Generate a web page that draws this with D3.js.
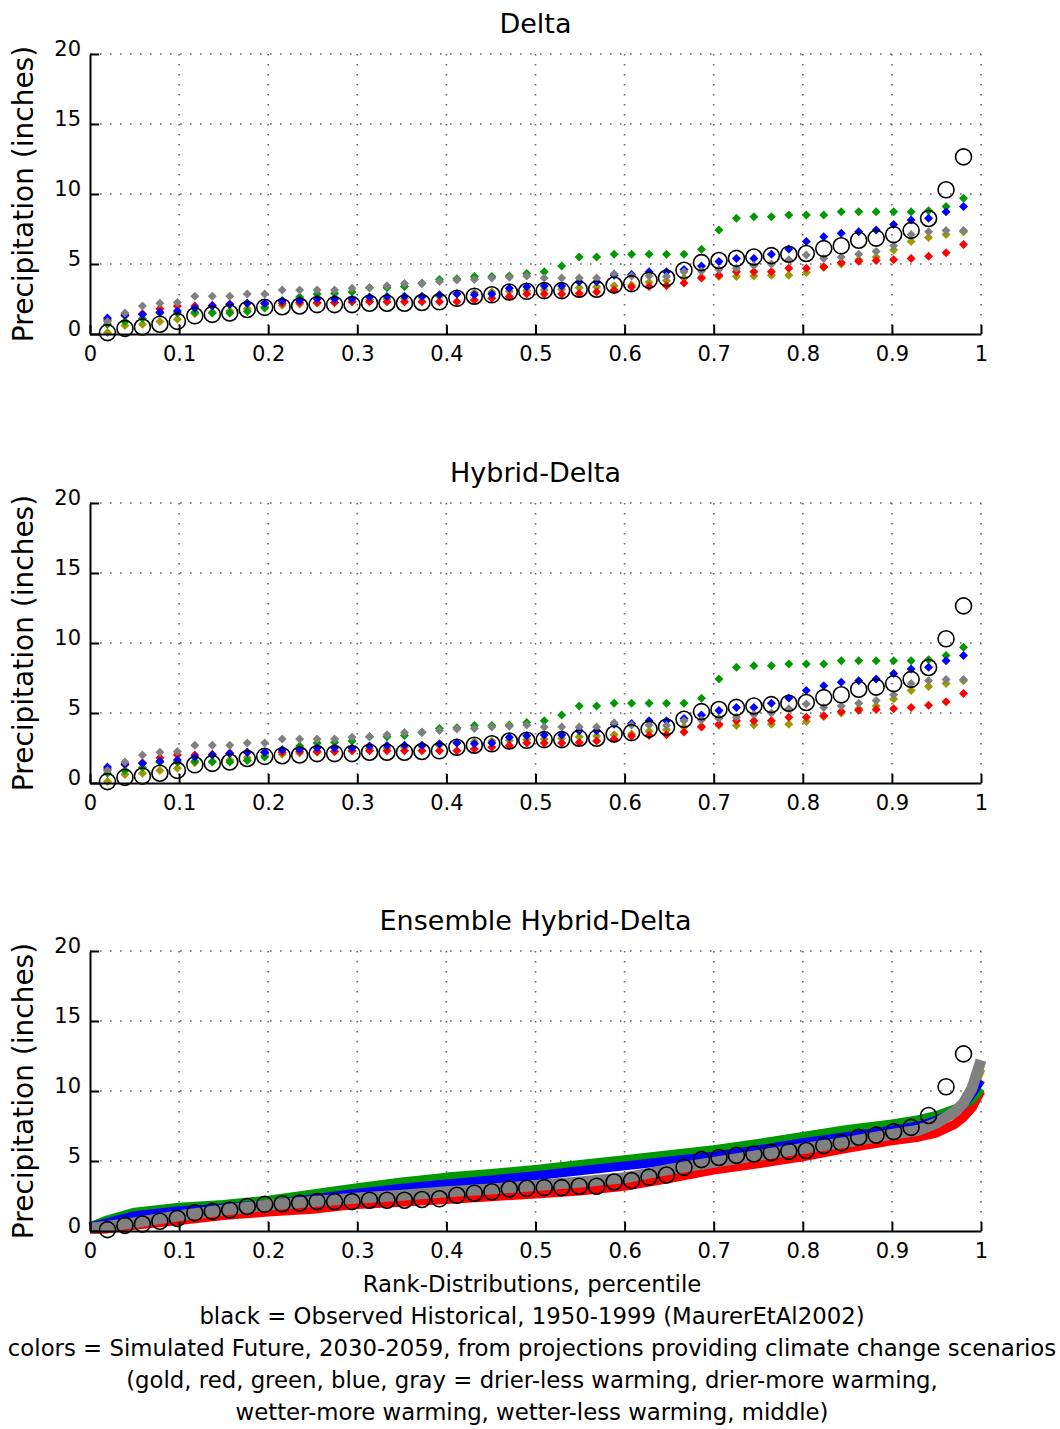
<!DOCTYPE html>
<html>
<head>
<meta charset="utf-8">
<script src="https://cdn.jsdelivr.net/npm/d3@7"></script>
<style>
  body { margin: 0; background: #fff; }
  text { font-family: "DejaVu Sans", "Liberation Sans", Arial, sans-serif; fill: #000; }
</style>
</head>
<body>
<div id="chart"></div>
<script>

// rank positions (50 years, i/51)
var rankX = d3.range(1, 51).map(i => i / 51);

// observed historical 1950-1999 (same in every panel)
var observed = [0.1, 0.4, 0.5, 0.7, 0.9, 1.3, 1.4, 1.5, 1.75, 1.9,
  1.95, 2.0, 2.1, 2.1, 2.1, 2.2, 2.2, 2.2, 2.25, 2.3,
  2.55, 2.7, 2.8, 3.0, 3.05, 3.1, 3.1, 3.2, 3.2, 3.5,
  3.6, 3.85, 4.0, 4.55, 5.1, 5.25, 5.4, 5.5, 5.6, 5.7,
  5.75, 6.1, 6.3, 6.7, 6.85, 7.1, 7.4, 8.25, 10.3, 12.65];

// Delta
var deltaGold = [0.1, 0.6, 0.7, 0.9, 1.05, 1.45, 1.55, 1.65, 1.8, 1.95,
  2.05, 2.15, 2.2, 2.25, 2.3, 2.45, 2.5, 2.55, 2.6, 2.7,
  2.9, 2.95, 3.0, 3.05, 3.1, 3.15, 3.2, 3.3, 3.35, 3.45,
  3.5, 3.7, 3.8, 4.0, 4.05, 4.1, 4.1, 4.15, 4.2, 4.2,
  4.4, 4.75, 5.0, 5.3, 5.5, 6.0, 6.6, 6.9, 7.1, 7.3];
var deltaRed = [1.0, 1.3, 1.45, 1.8, 2.0, 2.0, 2.05, 2.15, 2.2, 2.2,
  2.2, 2.25, 2.25, 2.25, 2.3, 2.3, 2.3, 2.3, 2.3, 2.3,
  2.3, 2.43, 2.55, 2.67, 2.85, 2.85, 2.85, 2.9, 3.0, 3.15,
  3.35, 3.4, 3.45, 3.65, 4.0, 4.2, 4.45, 4.45, 4.45, 4.7,
  4.7, 4.8, 5.1, 5.2, 5.25, 5.3, 5.4, 5.55, 5.8, 6.4];
var deltaGreen = [0.7, 0.9, 1.1, 1.5, 1.5, 1.55, 1.5, 1.5, 1.6, 1.85,
  2.4, 2.65, 2.85, 2.9, 3.0, 3.3, 3.3, 3.4, 3.6, 3.9,
  3.95, 4.1, 4.1, 4.14, 4.33, 4.45, 4.86, 5.5, 5.5, 5.69,
  5.69, 5.69, 5.69, 5.7, 6.05, 7.43, 8.26, 8.38, 8.38, 8.5,
  8.5, 8.5, 8.74, 8.74, 8.74, 8.74, 8.74, 8.8, 9.1, 9.7];
var deltaBlue = [1.15, 1.35, 1.4, 1.55, 1.65, 1.85, 2.0, 2.1, 2.2, 2.2,
  2.35, 2.4, 2.5, 2.5, 2.5, 2.65, 2.67, 2.7, 2.7, 2.8,
  2.86, 2.8, 2.85, 3.26, 3.38, 3.43, 3.43, 3.74, 3.74, 4.2,
  4.25, 4.45, 4.45, 4.6, 4.86, 5.17, 5.4, 5.4, 5.7, 6.07,
  6.6, 6.95, 7.2, 7.3, 7.43, 7.83, 8.14, 8.26, 8.74, 9.1];
var deltaGray = [0.9, 1.5, 2.0, 2.2, 2.25, 2.7, 2.7, 2.7, 2.85, 2.85,
  3.14, 3.14, 3.14, 3.14, 3.26, 3.3, 3.45, 3.6, 3.65, 3.75,
  3.86, 3.9, 4.0, 4.05, 4.14, 4.0, 4.0, 4.0, 4.0, 4.3,
  4.14, 4.14, 4.1, 4.45, 4.5, 4.6, 4.7, 4.9, 5.0, 5.3,
  5.64, 5.4, 5.5, 5.7, 5.9, 6.3, 7.1, 7.3, 7.4, 7.4];

// Hybrid-Delta
var hybridGold = deltaGold.slice();
var hybridRed = deltaRed.slice();
var hybridGreen = deltaGreen.slice();
var hybridBlue = deltaBlue.slice();
var hybridGray = deltaGray.slice();

// Ensemble Hybrid-Delta (band centres)
var ensX = [0, 0.02, 0.05, 0.1, 0.15, 0.2, 0.25, 0.3, 0.35, 0.4, 0.45, 0.5, 0.55,
  0.6, 0.65, 0.7, 0.75, 0.8, 0.85, 0.9, 0.93, 0.95, 0.97, 0.98, 0.99, 1.0];
var ensGold = [0.2, 0.3, 0.55, 1.05, 1.45, 1.8, 2.05, 2.3, 2.5, 2.75, 2.95, 3.2, 3.45,
  3.75, 4.35, 4.85, 5.35, 5.85, 6.3, 6.8, 7.1, 7.6, 8.4, 9.0, 10.0, 11.6];
var ensRed = [0.1, 0.15, 0.4, 0.75, 1.1, 1.35, 1.55, 1.9, 2.05, 2.25, 2.45, 2.65, 2.85,
  3.2, 3.75, 4.35, 4.8, 5.3, 5.9, 6.45, 6.7, 7.0, 7.6, 8.1, 8.8, 10.0];
var ensGreen = [0.3, 0.8, 1.35, 1.7, 1.9, 2.2, 2.65, 3.1, 3.5, 3.85, 4.1, 4.4, 4.75,
  5.1, 5.45, 5.8, 6.25, 6.75, 7.25, 7.65, 7.95, 8.25, 8.7, 9.0, 9.4, 10.2];
var ensBlue = [0.3, 0.6, 1.1, 1.45, 1.65, 1.9, 2.3, 2.7, 3.05, 3.35, 3.65, 3.95, 4.3,
  4.65, 5.0, 5.35, 5.8, 6.3, 6.75, 7.2, 7.5, 7.9, 8.5, 9.0, 9.8, 10.8];
var ensGray = [0.2, 0.35, 0.6, 1.1, 1.5, 1.85, 2.1, 2.35, 2.55, 2.8, 3.0, 3.25, 3.5,
  3.8, 4.4, 4.9, 5.4, 5.9, 6.35, 6.9, 7.2, 7.7, 8.5, 9.1, 10.2, 12.2];

var xTicks = [0, 0.1, 0.2, 0.3, 0.4, 0.5, 0.6, 0.7, 0.8, 0.9, 1];
var xTickLabels = ["0", "0.1", "0.2", "0.3", "0.4", "0.5", "0.6", "0.7", "0.8", "0.9", "1"];
var yTicks = [0, 5, 10, 15, 20];
var colors = {gold: "#999900", red: "#ff0000", green: "#009900", blue: "#0000ff", gray: "#808080"};

var notes = ["Rank-Distributions, percentile",
  "black = Observed Historical, 1950-1999 (MaurerEtAl2002)",
  "colors = Simulated Future, 2030-2059, from projections providing climate change scenarios",
  "(gold, red, green, blue, gray = drier-less warming, drier-more warming,",
  "wetter-more warming, wetter-less warming, middle)"];

var panels = [
  {title: "Delta", top: 54, series: [["gold", deltaGold], ["red", deltaRed], ["green", deltaGreen], ["blue", deltaBlue], ["gray", deltaGray]]},
  {title: "Hybrid-Delta", top: 503, series: [["gold", hybridGold], ["red", hybridRed], ["green", hybridGreen], ["blue", hybridBlue], ["gray", hybridGray]]},
  {title: "Ensemble Hybrid-Delta", top: 951, ensemble: true, series: [["gold", ensGold], ["red", ensRed], ["green", ensGreen], ["blue", ensBlue], ["gray", ensGray]]}
];

var width = 1060, height = 1429;
var left = 90, right = 981, plotH = 280;

var svg = d3.select("#chart").append("svg")
  .attr("width", width)
  .attr("height", height);

var x = d3.scaleLinear().domain([0, 1]).range([left, right]);

var d = 4.5;
var diamond = "M0," + (-d) + "L" + d + ",0L0," + d + "L" + (-d) + ",0Z";

panels.forEach(function(p) {
  var y = d3.scaleLinear().domain([0, 20]).range([p.top + plotH, p.top]);
  var g = svg.append("g");

  // dotted grid
  g.selectAll(".gx").data(xTicks.slice(1)).enter().append("line")
    .attr("x1", v => x(v)).attr("x2", v => x(v))
    .attr("y1", p.top).attr("y2", p.top + plotH)
    .style("stroke", "#666").style("stroke-width", 1.6).style("stroke-dasharray", "1.6,8.4");
  g.selectAll(".gy").data(yTicks.slice(1)).enter().append("line")
    .attr("x1", left).attr("x2", right)
    .attr("y1", v => y(v)).attr("y2", v => y(v))
    .style("stroke", "#666").style("stroke-width", 1.6).style("stroke-dasharray", "1.6,8.4");

  if (p.ensemble) {
    var line = d3.line().x((v, i) => x(ensX[i])).y(v => y(v));
    p.series.forEach(function(s) {
      g.append("path")
        .attr("d", line(s[1]))
        .style("fill", "none")
        .style("stroke", colors[s[0]])
        .style("stroke-width", s[0] == "gray" ? 11 : 9)
        .style("stroke-linejoin", "round");
    });
  } else {
    p.series.forEach(function(s) {
      g.selectAll(null).data(s[1]).enter().append("path")
        .attr("d", diamond)
        .attr("transform", (v, i) => "translate(" + x(rankX[i]) + "," + y(v) + ")")
        .style("fill", colors[s[0]]);
    });
  }

  // observed circles
  g.selectAll(null).data(observed).enter().append("circle")
    .attr("cx", (v, i) => x(rankX[i]))
    .attr("cy", v => y(v))
    .attr("r", 8)
    .style("fill", "none")
    .style("stroke", "#000")
    .style("stroke-width", 1.6);

  // axes
  var xAxis = d3.axisBottom(x).tickValues(xTicks)
    .tickFormat((v, i) => xTickLabels[i]).tickSizeInner(-9).tickSizeOuter(0).tickPadding(12);
  var yAxis = d3.axisLeft(y).tickValues(yTicks)
    .tickFormat(d3.format("d")).tickSizeInner(-9).tickSizeOuter(0).tickPadding(9);

  var ax = g.append("g").attr("transform", "translate(0," + (p.top + plotH) + ")").call(xAxis);
  var ay = g.append("g").attr("transform", "translate(" + left + ",0)").call(yAxis);
  [ax, ay].forEach(function(a) {
    a.select(".domain").style("stroke", "#000").style("stroke-width", 2);
    a.selectAll(".tick line").style("stroke", "#000").style("stroke-width", 2);
    a.selectAll(".tick text").style("font-size", "21px")
      .style("font-family", "'DejaVu Sans', sans-serif");
  });
  ay.selectAll(".tick text").attr("dy", "0.05em");

  g.append("text")
    .attr("x", (left + right) / 2)
    .attr("y", p.top - 21)
    .attr("text-anchor", "middle")
    .style("font-size", "27px")
    .text(p.title);

  g.append("text")
    .attr("transform", "translate(33," + (p.top + plotH / 2) + ") rotate(-90)")
    .attr("text-anchor", "middle")
    .style("font-size", "28px")
    .text("Precipitation (inches)");
});

svg.selectAll(".note").data(notes).enter().append("text")
  .attr("x", 532)
  .attr("y", (t, i) => 1292 + i * 32)
  .attr("text-anchor", "middle")
  .style("font-size", "22.8px")
  .text(t => t);

</script>
</body>
</html>
